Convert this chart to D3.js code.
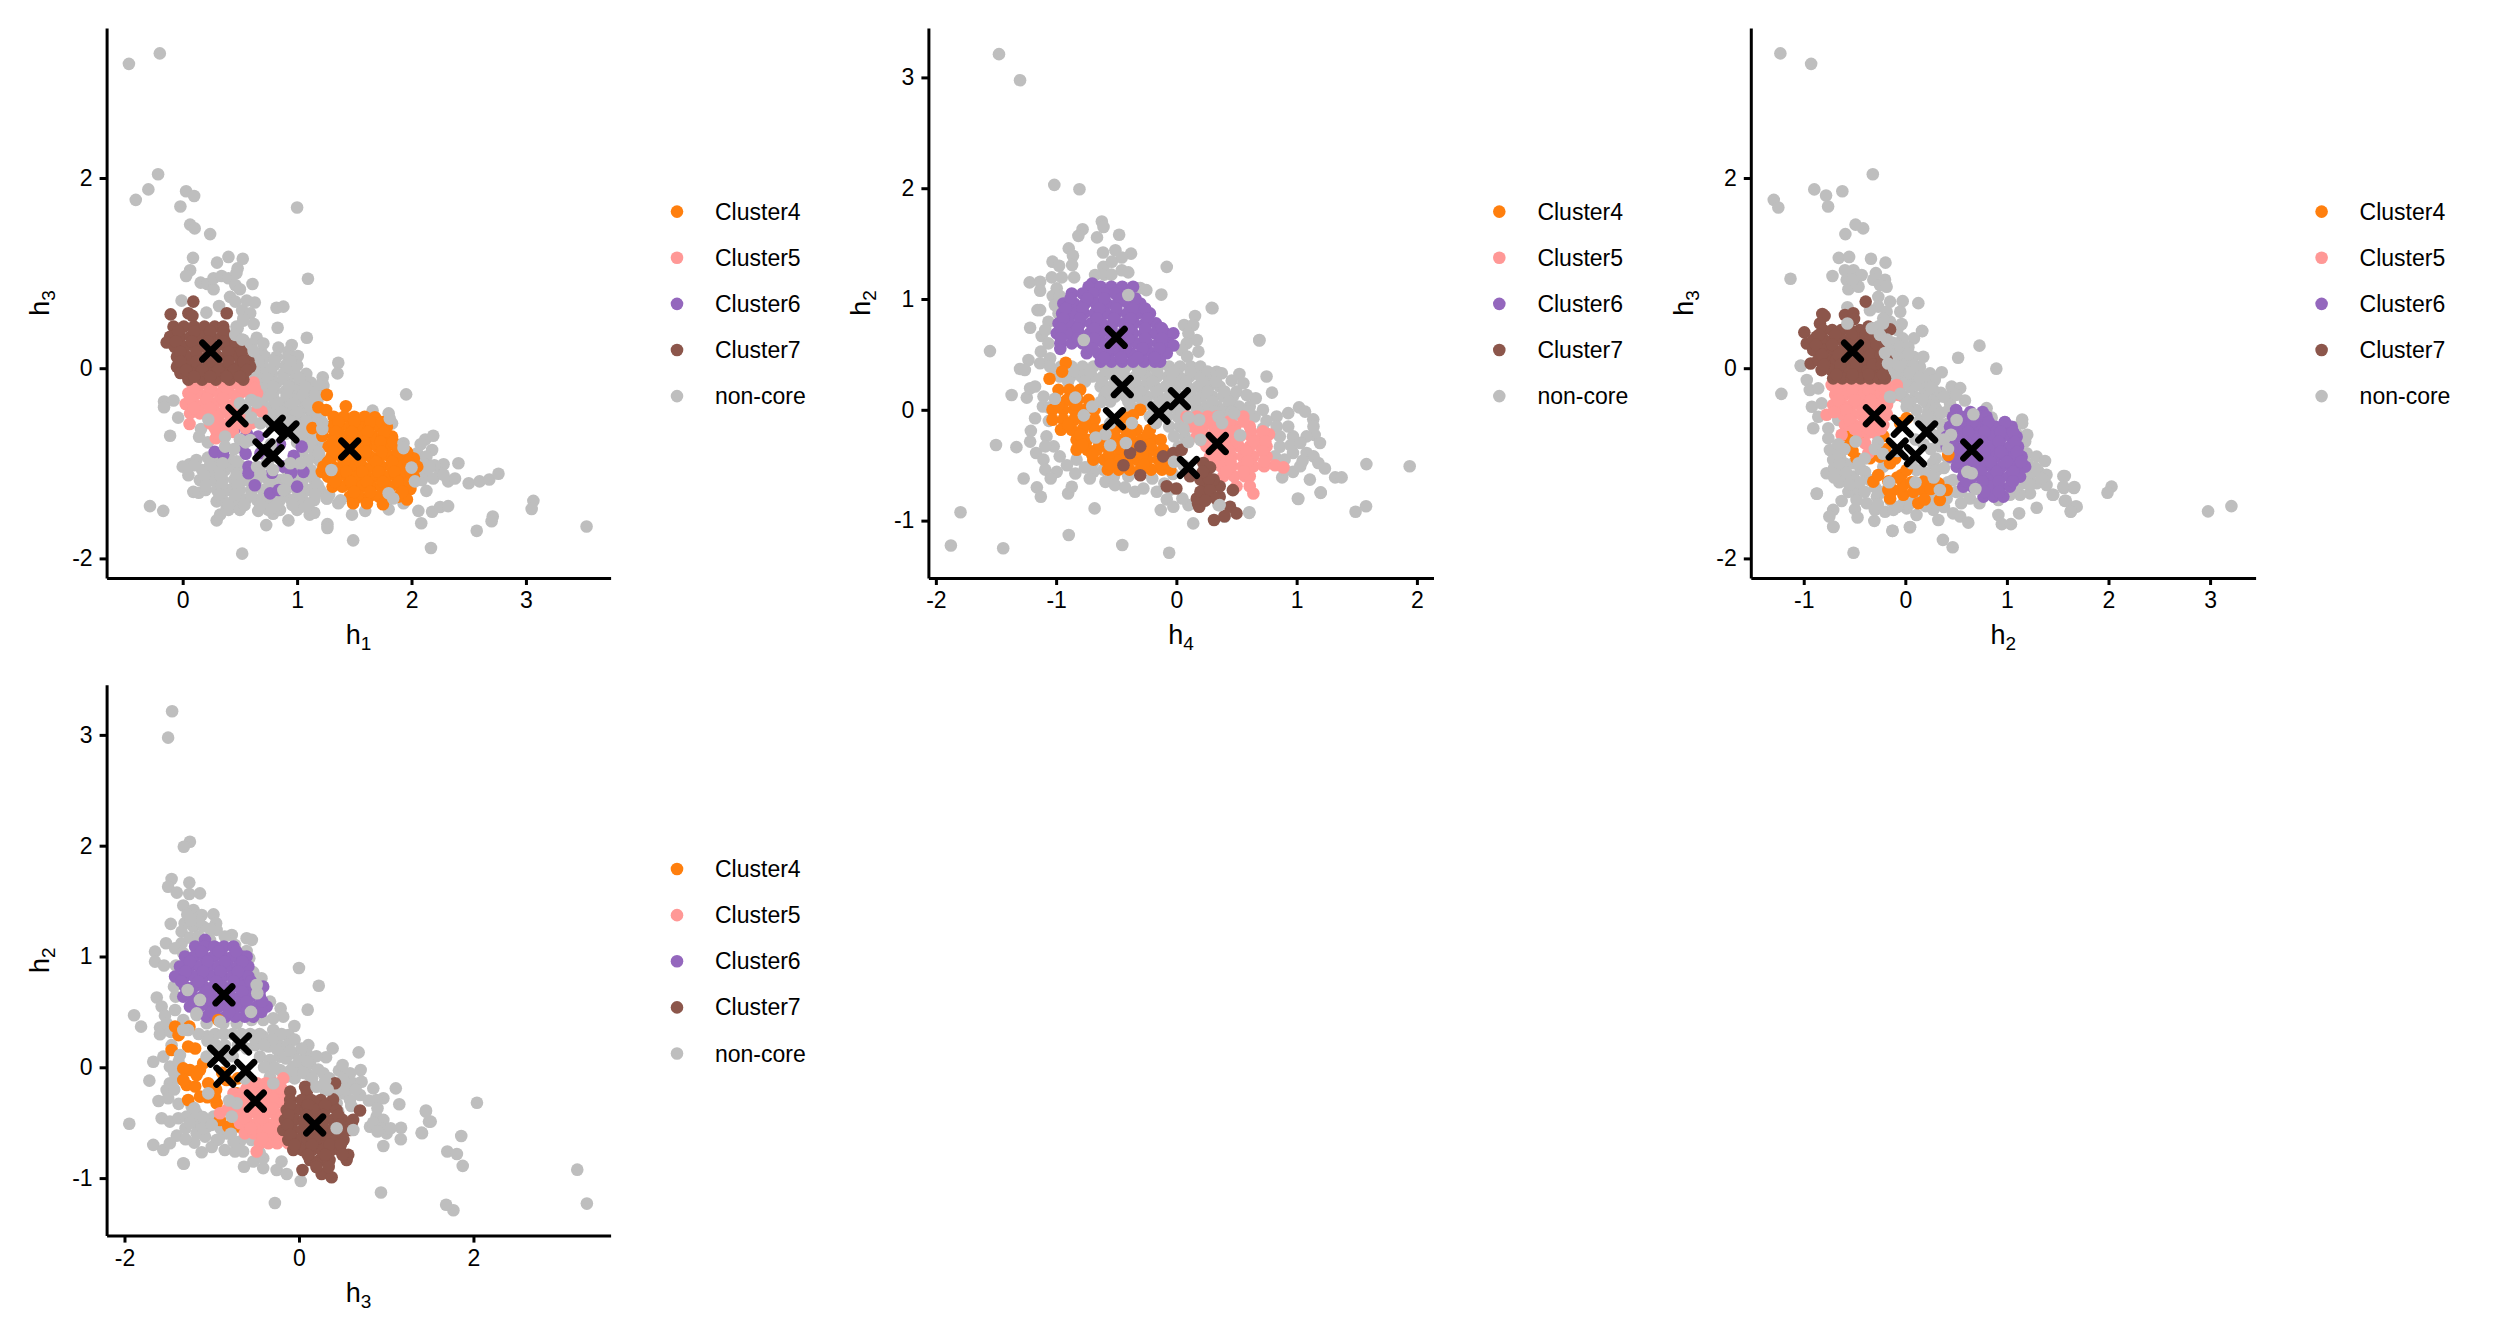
<!DOCTYPE html>
<html>
<head>
<meta charset="utf-8">
<script src="https://cdn.jsdelivr.net/npm/d3@7"></script>
<style>
  body { margin: 0; background: #fff; }
  text { font-family: "Liberation Sans", Arial, sans-serif; fill: #000; }
</style>
</head>
<body>
<svg id="chart" width="2496" height="1344"></svg>
<script>
var legendLabels = ['Cluster4', 'Cluster5', 'Cluster6', 'Cluster7', 'non-core'];
var legendColors = ['#FF7F0E', '#FF9896', '#9467BD', '#8C564B', '#BEBEBE'];

var h1Ticks = [0, 1, 2, 3];
var h2Ticks = [-1, 0, 1, 2, 3];
var h3Ticks = [-2, 0, 2];
var h4Ticks = [-2, -1, 0, 1, 2];

// cluster centres, one entry per centre
var centreH1 = [.245, .475, .80, .92, .71, .79, 1.46];
var centreH2 = [-.52, -.305, -.03, .21, .654, .10, -.08];
var centreH3 = [.18, -.50, -.61, -.67, -.86, -.92, -.85];
var centreH4 = [.10, .34, -.145, -.45, -.50, .025, -.515];

// panel 1: h1 / h3
var p1Grey = [[-.47,3.2],[-.2,3.31],[-.215,2.04],[-.3,1.88],[-.41,1.77],[.03,1.86],[.1,1.81],[-.02,1.7],[1,1.69],[.065,1.51],[.105,1.47],[.24,1.41],[.09,1.16],[.3,1.11],[.4,1.17],[.525,1.15],[.48,1.05],[.065,1.03],[.03,.97],[.157,.9],[.216,.885],[.27,.83],[.27,.945],[.34,.97],[.4,.945],[.47,1],[.46,.875],[.5,.83],[.61,.885],[.414,.75],[.46,.7],[.56,.71],[.63,.69],[.52,.61],[.59,.577],[.53,.524],[.62,.465],[.47,.437],[.46,.366],[.53,.296],[.647,.32],[-.01,.71],[.318,.654],[.207,.584],[.82,.636],[.88,.647],[.83,.426],[1.085,.32],[.837,.216],[.953,.244],[.924,.174],[1.006,.128],[.69,.163],[.705,.26],[1.36,.058],[1.353,-.054],[1.095,.94],[1.953,-.275],[1.224,-.096],[1.23,-.187],
[.62,.12],[.72,.12],[.82,.12],[.92,.12],[.6,.03],[.7,.03],[.8,.03],[.9,.03],[1,.03],[.58,-.06],[.68,-.06],[.78,-.06],[.88,-.06],[.98,-.06],[1.08,-.06],[.62,-.15],[.72,-.15],[.82,-.15],[.92,-.15],[1.02,-.15],[1.12,-.15],[1.22,-.15],[.6,-.24],[.7,-.24],[.8,-.24],[.9,-.24],[1,-.24],[1.1,-.24],[1.2,-.24],[.6,-.33],[.7,-.33],[.8,-.33],[.9,-.33],[1,-.33],[1.1,-.33],[1.18,-.33],[.66,-.42],[.76,-.42],[.86,-.42],[.96,-.42],[1.06,-.42],[1.16,-.42],[.72,-.51],[.82,-.51],[.92,-.51],[1.02,-.51],[1.12,-.51],[1.2,-.51],[.78,-.6],[.88,-.6],[.98,-.6],[1.08,-.6],[1.18,-.6],[.9,-.69],[1,-.69],[1.1,-.69],[1.18,-.69],[1,-.78],[1.1,-.78],[1.2,-.78],[1.05,-.87],[1.15,-.87],[1.2,-.95],
[.66,.075],[.8,.075],[.94,.075],[.63,-.015],[.77,-.015],[.91,-.015],[.6,-.105],[.74,-.105],[.88,-.105],[1.02,-.105],[.65,-.195],[.79,-.195],[.93,-.195],[1.07,-.195],[1.2,-.195],[.63,-.285],[.77,-.285],[.91,-.285],[1.05,-.285],[1.16,-.285],[.68,-.375],[.82,-.375],[.96,-.375],[1.1,-.375],[.72,-.465],[.86,-.465],[1,-.465],[1.14,-.465],[.8,-.555],[.94,-.555],[1.08,-.555],[1.18,-.555],[.92,-.645],[1.06,-.645],[1.16,-.645],[1.04,-.735],[1.16,-.735],
[2.12,-.75],[2.19,-.71],[2.08,-.8],[2.18,-.86],[2.05,-.895],[2.13,-.93],[2.28,-1.01],[2.41,-1],[2.02,-1.07],[2.13,-1.09],[2.25,-1.105],[2.09,-1.175],[2.19,-1.16],[2.32,-1.19],[2.38,-1.16],[2.5,-1.21],[2.595,-1.19],[2.68,-1.17],[2.76,-1.11],[2.13,-1.29],[2.06,-1.5],[2.18,-1.51],[2.25,-1.46],[2.32,-1.45],[2.085,-1.63],[2.71,-1.56],[2.7,-1.61],[2.57,-1.71],[2.17,-1.89],[1.49,-1.81],[1.265,-1.64],[1.265,-1.68],[3.065,-1.395],[3.05,-1.48],[3.53,-1.665],[1.66,-.446],[1.8,-.475],[1.83,-.58],[1.8,-1.484],[1.93,-1.42],[1.595,-1.5],[1.48,-1.54],[1.36,-1.42],[1.26,-1.37],[2.2,-1.02],[2.1,-1],[2.16,-1.04],[2.28,-1.12],[2.06,-1.12],
[-.163,-.35],[-.08,-.34],[-.163,-.41],[-.04,-.52],[-.11,-.71],[.143,-.72],[-.286,-1.45],[-.17,-1.5],[.52,-1.95],[.73,-1.65],[.297,-1.6],[.327,-1.54],[.385,-1.47],[.46,-1.456],[.66,-1.5],[.093,-1.3],[.14,-1.31],[.297,-1.4],[.924,-1.6],[1.11,-1.54],[1.15,-1.52],[.79,-1.53],[1.04,-1.456],[.16,-.64],[.22,-.78],
[.12,-.965],[.22,-.94],[.32,-.965],[.42,-.965],[1,-.965],[1.1,-.965],[1.2,-.98],[0,-1.035],[.06,-1.01],[.17,-1.07],[.27,-1.07],[.37,-1.07],[.47,-1.07],[.6,-1.07],[.91,-1.07],[1.02,-1.07],[1.12,-1.07],[.15,-1.175],[.25,-1.175],[.35,-1.175],[.45,-1.175],[.55,-1.175],[.65,-1.175],[.75,-1.175],[.85,-1.175],[.95,-1.175],[1.05,-1.175],[1.15,-1.175],[.2,-1.28],[.3,-1.28],[.4,-1.28],[.5,-1.28],[.6,-1.28],[.7,-1.28],[.8,-1.28],[.9,-1.28],[1,-1.28],[1.1,-1.28],[1.2,-1.28],[.35,-1.386],[.45,-1.386],[.55,-1.386],[.65,-1.386],[.75,-1.386],[.85,-1.386],[.95,-1.386],[1.05,-1.386],[1.15,-1.386],[.4,-1.49],[.5,-1.49],[.75,-1.49],[.85,-1.49],[1,-1.49],
[.1,-1.02],[.24,-1.02],[.38,-1.02],[.5,-1.02],[.05,-1.125],[.19,-1.125],[.33,-1.125],[.47,-1.125],[.61,-1.125],[.97,-1.125],[1.11,-1.125],[.2,-1.23],[.34,-1.23],[.48,-1.23],[.62,-1.23],[.76,-1.23],[.9,-1.23],[1.04,-1.23],[1.18,-1.23],[.32,-1.33],[.46,-1.33],[.6,-1.33],[.74,-1.33],[.88,-1.33],[1.02,-1.33],[1.16,-1.33],[1.28,-1.33],[.4,-1.44],[.54,-1.44],[.68,-1.44],[.82,-1.44],[.96,-1.44],[1.1,-1.44]];
var p1Orange = [[1.26,-.28],[1.186,-.41],[1.254,-.44],[1.426,-.4],[1.68,-.516],[1.134,-.63],[1.22,-.71],[1.216,-1.09],
[1.32,-.51],[1.41,-.51],[1.5,-.51],[1.59,-.51],[1.29,-.615],[1.375,-.615],[1.46,-.615],[1.545,-.615],[1.63,-.615],[1.715,-.615],[1.785,-.615],[1.32,-.72],[1.405,-.72],[1.49,-.72],[1.575,-.72],[1.66,-.72],[1.745,-.72],[1.83,-.72],[1.275,-.825],[1.36,-.825],[1.445,-.825],[1.53,-.825],[1.615,-.825],[1.7,-.825],[1.785,-.825],[1.87,-.825],[1.3,-.93],[1.385,-.93],[1.47,-.93],[1.555,-.93],[1.64,-.93],[1.725,-.93],[1.81,-.93],[1.895,-.93],[1.98,-.93],[2.02,-.95],[1.23,-1.035],[1.315,-1.035],[1.4,-1.035],[1.485,-1.035],[1.57,-1.035],[1.655,-1.035],[1.74,-1.035],[1.825,-1.035],[1.91,-1.035],[1.995,-1.035],[2.05,-1.035],[1.27,-1.14],[1.355,-1.14],[1.44,-1.14],[1.525,-1.14],[1.61,-1.14],[1.695,-1.14],[1.78,-1.14],[1.865,-1.14],[1.95,-1.14],[2.02,-1.14],[1.31,-1.245],[1.395,-1.245],[1.48,-1.245],[1.565,-1.245],[1.65,-1.245],[1.735,-1.245],[1.82,-1.245],[1.905,-1.245],[1.99,-1.27],[1.46,-1.35],[1.545,-1.35],[1.63,-1.35],[1.715,-1.35],[1.8,-1.35],[1.885,-1.35],[1.96,-1.38],[1.49,-1.42],[1.61,-1.42],[1.75,-1.43],
[1.36,-.565],[1.5,-.565],[1.64,-.565],[1.74,-.565],[1.34,-.67],[1.48,-.67],[1.62,-.67],[1.76,-.67],[1.31,-.775],[1.45,-.775],[1.59,-.775],[1.73,-.775],[1.84,-.775],[1.32,-.88],[1.46,-.88],[1.6,-.88],[1.74,-.88],[1.88,-.88],[1.96,-.88],[1.27,-.985],[1.41,-.985],[1.55,-.985],[1.69,-.985],[1.83,-.985],[1.97,-.985],[1.29,-1.09],[1.43,-1.09],[1.57,-1.09],[1.71,-1.09],[1.85,-1.09],[1.99,-1.09],[1.33,-1.195],[1.47,-1.195],[1.61,-1.195],[1.75,-1.195],[1.89,-1.195],[1.98,-1.195],[1.5,-1.3],[1.64,-1.3],[1.78,-1.3],[1.92,-1.3]];
var p1Pink = [[.026,-.376],[.06,-.587],[.69,-.457],[.29,-.737],[.08,-.16],[.17,-.16],[.26,-.16],[.35,-.16],[.44,-.16],[.53,-.16],[.62,-.15],[.05,-.264],[.14,-.264],[.23,-.264],[.32,-.264],[.41,-.264],[.5,-.264],[.59,-.264],[.65,-.264],[.1,-.37],[.19,-.37],[.28,-.37],[.37,-.37],[.46,-.37],[.065,-.475],[.15,-.475],[.24,-.475],[.33,-.475],[.42,-.475],[.51,-.475],[.6,-.475],[.24,-.58],[.33,-.58],[.42,-.58],[.51,-.58],[.6,-.58],[.3,-.685],[.38,-.685],[.44,-.67],
[.1,-.21],[.24,-.21],[.38,-.21],[.52,-.21],[.63,-.21],[.07,-.32],[.21,-.32],[.35,-.32],[.47,-.32],[.1,-.42],[.24,-.42],[.38,-.42],[.5,-.42],[.28,-.53],[.42,-.53],[.56,-.53],[.28,-.63],[.42,-.63],[.55,-.63]];
var p1Purple = [[.28,-.88],[.355,-.91],[.46,-.63],[.56,-.685],[.66,-.72],[1.04,-.825],[.97,-.92],[.88,-1.035],[.575,-1.035],[.63,-1.23],[.764,-1.316],[.84,-1.28],[1,-1.245],[1.055,-1.09],[.68,-.895],[.5,-.825],[.575,-1.105],[.85,-.8],[.55,-.9],[.78,-1.1],[.95,-1.1]];
var p1Brown = [[.093,.7],[-.105,.566],[.05,.577],[.385,.577],[.085,.55],[-.08,.437],[.01,.437],[.1,.437],[.19,.437],[.28,.437],[.355,.437],[-.11,.33],[-.02,.33],[.07,.33],[.16,.33],[.25,.33],[.34,.33],[.44,.33],[-.14,.27],[-.07,.226],[.02,.226],[.11,.226],[.2,.226],[.29,.226],[.38,.226],[.47,.226],[.5,.2],[-.05,.12],[.04,.12],[.13,.12],[.22,.12],[.31,.12],[.4,.12],[.49,.12],[.575,.08],[-.05,.016],[.04,.016],[.13,.016],[.22,.016],[.31,.016],[.4,.016],[.49,.016],[.59,.016],[-.02,-.05],[.08,-.06],[.17,-.06],[.26,-.06],[.35,-.06],[.44,-.06],[.53,-.06],[.05,-.12],[.17,-.12],[.29,-.12],[.41,-.12],[.53,-.12],
[-.04,.385],[.1,.385],[.24,.385],[.36,.385],[-.06,.28],[.08,.28],[.22,.28],[.36,.28],[.46,.28],[-.02,.17],[.12,.17],[.26,.17],[.4,.17],[.52,.17],[-.02,.07],[.12,.07],[.26,.07],[.4,.07],[.53,.07],[.03,-.02],[.17,-.02],[.31,-.02],[.45,-.02],[.56,-.02],[.1,-.09],[.24,-.09],[.38,-.09],[.5,-.09]];
var p1GreyTop = [[.37,-.72],[.37,-.825],[.47,-.98],[.65,-1.035],[.68,-1.105],[.735,-1],[.79,-1.07],[.91,-1.175],[.88,-1.28],[.94,-1],[1.03,-1],[.59,-.755],[.5,-.75],[.77,-.8],[.75,-.97],[.45,-.85],[.35,-1],[.55,-.78],[1.22,-.57],[1.22,-.64],[1.19,-.895],[2,-1.045],[2.03,-1.19],[1.93,-.79],[1.93,-.84],[1.8,-1.315],[1.84,-1.37],[1.81,-.53],[1.3,-1.07],[1.26,-1.37],[1.38,-1.39],[.224,-.54],[.5,-.37],[.6,-.335],[.53,.5],[.48,.42],[.46,.35],[.52,.3],[.6,.25],[.62,.18],[.65,-.36],[.55,-.42],[.68,-.58],[.6,-.52]];

// panel 2: h4 / h2
var p2Grey = [[-1.475,3.21],[-1.3,2.975],[-1.015,2.03],[-.806,1.99],[-1.795,-.924],[-1.875,-1.225],[-1.44,-1.25],[-.895,-1.13],[-.45,-1.22],[-.06,-1.29],[-.68,-.89],[1.94,-.51],[1.58,-.49],[1.577,-.87],[1.49,-.92],[1.01,-.8],[1.2,-.75],[.14,-1.025],[.606,-.93],[-1.55,.53],[-1.5,-.317],[-1.33,-.337],[-1.37,.133],[.69,.626],[.3,.916],[-.08,1.29],[-.125,1.04],
[-.62,1.7],[-.606,1.65],[-.78,1.63],[-.815,1.57],[-.66,1.556],[-.476,1.58],[-.895,1.457],[-.86,1.39],[-.867,1.306],[-.61,1.42],[-.507,1.44],[-.377,1.41],[-.454,1.375],[-1.03,1.337],[-.975,1.3],[-.607,1.29],[-.537,1.337],[-.454,1.26],[-.4,1.24],[-.676,1.217],[-.6,1.22],[-.54,1.22],[-.3,1.1],[-.25,1.08],[-1.22,1.15],[-1.133,1.156],[-1.133,1.075],[-1.036,1.195],[-.953,1.195],[-.85,1.195],[-.995,1.096],[-1.028,1.027],[-.97,1.027],[-1.01,.946],[-1.155,.9],[-1.133,.9],[-.98,.87],[-1.064,.795],[-1.216,.74],[-1.12,.666],[-1.09,.72],[-1.127,.525],[-1.064,.6],[-1.23,.45],[-1.3,.368],[-1.26,.36],[-1.133,.42],[-1.05,.465],[-1.244,.11],[-1.216,.194],[-1.175,.21],[-1.105,.12],[-1.11,.03],[-1.175,-.076],[-1.21,-.19],[-1.216,-.287],[-1.166,-.39],[-1.105,-.45],[-1.09,-.54],[-.995,-.56],[-1.045,-.62],[-1.27,-.62],[-1.16,-.7],[-1.127,-.785],[-.9,-.755],[-.87,-.695],[-.84,-.575],[-1.08,-.24],[-1.02,-.33],[-.97,-.42],[-.83,-.45],[-.695,-.48],[-.69,-.56],[-.607,-.54],[-.52,-.6],[-1.06,-.1],[-1.06,.02],[-1.09,-.33],[-.91,-.5],[-.76,-.52],[-.72,-.62],
[-1.05,.39],[-.96,.39],[-.87,.39],[-.78,.39],[-.69,.39],[-.6,.39],[-.51,.39],[-.42,.39],[-.33,.39],[-.24,.39],[-.15,.39],[-.06,.39],[.03,.39],[.12,.39],[.2,.39],[-.97,.3],[-.88,.3],[-.79,.3],[-.7,.3],[-.61,.3],[-.52,.3],[-.43,.3],[-.34,.3],[-.25,.3],[-.16,.3],[-.07,.3],[.02,.3],[.11,.3],[.2,.3],[.29,.3],[-.63,.21],[-.54,.21],[-.45,.21],[-.36,.21],[-.27,.21],[-.18,.21],[-.09,.21],[0,.21],[.09,.21],[.18,.21],[.27,.21],[.36,.21],[-.6,.12],[-.51,.12],[-.42,.12],[-.33,.12],[-.24,.12],[-.15,.12],[-.06,.12],[.03,.12],[.12,.12],[.21,.12],[.3,.12],[.39,.12],[.47,.12],[-.38,.03],[-.29,.03],[-.2,.03],[-.11,.03],[-.02,.03],[.07,.03],[.16,.03],[.25,.03],[.34,.03],[.43,.03],[.52,.03],[.61,.03],[-.08,-.06],[.01,-.06],[.1,-.06],[.25,-.05],[.38,-.05],[.47,-.06],[.56,-.06],[.65,-.06],[-.06,-.15],[.03,-.15],[.12,-.15],[-.02,-.24],[.07,-.24],[.02,-.33],
[-1,.345],[-.86,.345],[-.72,.345],[-.58,.345],[-.44,.345],[-.3,.345],[-.16,.345],[-.02,.345],[.12,.345],[.26,.345],[-.9,.255],[-.76,.255],[-.62,.255],[-.48,.255],[-.34,.255],[-.2,.255],[-.06,.255],[.08,.255],[.22,.255],[.33,.255],[-.58,.165],[-.44,.165],[-.3,.165],[-.16,.165],[-.02,.165],[.12,.165],[.26,.165],[.4,.165],[-.55,.075],[-.4,.075],[-.26,.075],[-.12,.075],[.02,.075],[.16,.075],[.3,.075],[.44,.075],[-.1,-.015],[.04,-.015],[.18,-.015],[.32,-.015],[.46,-.015],[.6,-.015],
[.064,.765],[.155,.846],[.14,.765],[.1,.69],[.17,.63],[.086,.6],[.044,.54],[.183,.525],[.09,.48],[.294,.92],[.69,.63],[.335,.344],[.377,.33],[.46,.263],[.524,.323],[.557,.24],[.75,.3],[.795,.155],[.66,.104],[.5,.164],[.585,.134],[1.02,.022],[1.07,-.016],[1.138,-.086],[.93,-.03],[.834,-.06],[.72,0],[.97,-.24],[1.14,-.15],[1.15,-.227],[1.194,-.3],[1.083,-.24],[.834,-.15],[.93,-.15],[.86,-.24],[.86,-.333],[.82,-.42],[.97,-.39],[1.083,-.39],[1.14,-.42],[1.18,-.48],[1.235,-.53],[.97,-.56],[1.03,-.51],[1.11,-.63],[.88,-.61],[1.32,-.61],[1.374,-.61],[1.2,-.745],[1.014,-.805],[.9,-.54],[.75,-.1],[.95,-.32],[1.03,-.3],[.72,-.17],[.9,-.45],[1.05,-.46],
[-.59,-.65],[-.51,-.68],[-.427,-.7],[-.344,-.74],[-.274,-.71],[-.163,-.74],[-.1,-.665],[-.05,-.72],[-.08,-.81],[-.13,-.905],[-.025,-.875],[.1,-.86],[.35,-.86],[.4,-.965],[.607,-.925],[-.4,-.6],[-.2,-.62],[.05,-.8],[-.03,-.58]];
var p2Orange = [[-.92,.425],[-.95,.345],[-1.055,.28],[-.98,.18],[-.89,.18],[-.8,.18],[-1,.09],[-.91,.09],[-.82,.09],[-.73,.09],[-1.03,0],[-.94,0],[-.85,0],[-.76,0],[-.68,0],[-.3,0],[-1.03,-.09],[-.94,-.09],[-.85,-.09],[-.76,-.09],[-.68,-.09],[-.36,-.05],[-.42,-.07],[-.96,-.18],[-.87,-.18],[-.78,-.18],[-.68,-.18],[-.6,-.18],[-.51,-.18],[-.42,-.18],[-.33,-.18],[-.22,-.18],[-.83,-.27],[-.74,-.27],[-.65,-.27],[-.56,-.27],[-.47,-.27],[-.38,-.27],[-.29,-.27],[-.2,-.27],[-.13,-.27],[-.83,-.36],[-.74,-.36],[-.66,-.36],[-.56,-.36],[-.47,-.36],[-.38,-.36],[-.29,-.36],[-.2,-.36],[-.11,-.36],[-.69,-.45],[-.6,-.45],[-.51,-.45],[-.42,-.45],[-.33,-.45],[-.24,-.45],[-.15,-.45],[-.08,-.45],[-.57,-.54],[-.48,-.54],[-.39,-.54],[-.3,-.54],[-.21,-.54],[-.12,-.54],[-.05,-.54],
[-.9,-.135],[-.76,-.135],[-.98,.045],[-.84,.045],[-.72,.045],[-.8,-.225],[-.66,-.225],[-.52,-.225],[-.38,-.225],[-.24,-.225],[-.78,-.315],[-.64,-.315],[-.5,-.315],[-.36,-.315],[-.22,-.315],[-.7,-.405],[-.56,-.405],[-.42,-.405],[-.28,-.405],[-.14,-.405],[-.55,-.495],[-.41,-.495],[-.27,-.495],[-.13,-.495]];
var p2Pink = [[.085,-.06],[.17,-.06],[.26,-.06],[.335,-.06],[.557,-.06],[.14,-.15],[.22,-.15],[.31,-.15],[.4,-.15],[.49,-.15],[.61,-.15],[.17,-.24],[.26,-.24],[.35,-.24],[.44,-.24],[.53,-.24],[.62,-.24],[.72,-.24],[.77,-.22],[.25,-.33],[.34,-.33],[.43,-.33],[.52,-.33],[.61,-.33],[.7,-.33],[.75,-.33],[.28,-.42],[.37,-.42],[.46,-.42],[.55,-.42],[.64,-.42],[.75,-.42],[.28,-.51],[.37,-.51],[.46,-.51],[.55,-.51],[.64,-.51],[.73,-.51],[.82,-.5],[.89,-.52],[.39,-.6],[.48,-.6],[.57,-.6],[.61,-.6],[.5,-.69],[.61,-.69],[.64,-.755],
[.16,-.105],[.3,-.105],[.44,-.105],[.56,-.105],[.2,-.195],[.34,-.195],[.48,-.195],[.62,-.195],[.72,-.195],[.22,-.285],[.36,-.285],[.5,-.285],[.64,-.285],[.74,-.285],[.3,-.375],[.44,-.375],[.58,-.375],[.72,-.375],[.31,-.465],[.45,-.465],[.59,-.465],[.73,-.465],[.42,-.555],[.56,-.555]];
var p2Purple = [[-.7,1.14],[-.73,1.11],[-.63,1.11],[-.54,1.11],[-.45,1.11],[-.36,1.11],[-.87,1.05],[-.78,1.05],[-.69,1.05],[-.6,1.05],[-.51,1.05],[-.41,1.05],[-.94,.96],[-.85,.96],[-.76,.96],[-.67,.96],[-.58,.96],[-.49,.96],[-.4,.96],[-.3,.96],[-.95,.87],[-.86,.87],[-.77,.87],[-.68,.87],[-.59,.87],[-.5,.87],[-.41,.87],[-.32,.87],[-.22,.87],[-.98,.78],[-.89,.78],[-.8,.78],[-.71,.78],[-.62,.78],[-.53,.78],[-.44,.78],[-.35,.78],[-.26,.78],[-.17,.78],[-.135,.74],[-.995,.69],[-.9,.69],[-.81,.69],[-.72,.69],[-.63,.69],[-.54,.69],[-.45,.69],[-.36,.69],[-.27,.69],[-.18,.69],[-.09,.69],[-.025,.69],[-.965,.6],[-.87,.6],[-.78,.6],[-.69,.6],[-.6,.6],[-.51,.6],[-.42,.6],[-.33,.6],[-.24,.6],[-.15,.6],[-.06,.6],[-.025,.58],[-.965,.55],[-.745,.51],[-.65,.51],[-.56,.51],[-.47,.51],[-.38,.51],[-.29,.51],[-.2,.51],[-.11,.51],[-.08,.51],[-.63,.435],[-.54,.435],[-.45,.435],[-.36,.435],[-.27,.435],[-.18,.435],[-.135,.435],
[-.88,1.005],[-.74,1.005],[-.6,1.005],[-.46,1.005],[-.34,1.005],[-.92,.915],[-.78,.915],[-.64,.915],[-.5,.915],[-.36,.915],[-.26,.915],[-.94,.825],[-.8,.825],[-.66,.825],[-.52,.825],[-.38,.825],[-.24,.825],[-.96,.735],[-.82,.735],[-.68,.735],[-.54,.735],[-.4,.735],[-.26,.735],[-.12,.735],[-.96,.645],[-.82,.645],[-.68,.645],[-.54,.645],[-.4,.645],[-.26,.645],[-.12,.645],[-.7,.555],[-.56,.555],[-.42,.555],[-.28,.555],[-.14,.555],[-.6,.47],[-.46,.47],[-.32,.47],[-.18,.47]];
var p2Brown = [[-.385,-.39],[-.3,-.33],[-.44,-.5],[-.3,-.59],[-.11,-.42],[-.025,-.39],[.044,-.36],[-.08,-.69],[0,-.71],[.114,-.6],[.224,-.48],[.28,-.52],[.18,-.845],[.19,-.875],[.17,-.8],[.25,-.77],[.36,-.69],[.31,-.63],[.24,-.69],[.2,-.63],[.36,-.785],[.47,-.725],[.446,-.875],[.5,-.935],[.313,-.995],[.4,-.96],[.2,-.74],[.28,-.725],[.27,-.62],[.22,-.56],[.33,-.8],[.24,-.82]];
var p2GreyTop = [[-.4,1.036],[-.77,.63],[-1.01,.1],[-.84,.11],[-.77,-.05],[-.63,.07],[-.7,.03],[-.55,-.12],[-.59,-.22],[-.67,-.25],[-.42,-.3],[-.55,-.32],[.36,-.86],[.53,-.23],[.2,-.27],[.06,-.17],[.19,-.09],[.35,-.06],[.48,-.03],[.38,-.12],[.1,-.07],[-.17,-.12],[-.22,-.06],[-.13,-.03],[-.05,.02],[-.37,-.12],[.06,-.5],[-.02,-.47],[.1,-.29]];

// panel 3: h2 / h3
var p3Grey = [[-1.23,3.31],[-.927,3.2],[-.32,2.04],[-.896,1.88],[-.62,1.86],[-.78,1.815],[-.76,1.7],[-1.295,1.77],[-1.25,1.69],[-.49,1.51],[-.415,1.47],[-.59,1.41],[-.655,1.16],[-.553,1.17],[-.338,1.15],[-.195,1.11],[-1.13,.94],[-.717,.97],[3.21,-1.45],[2.98,-1.505],[2.03,-1.245],[1.99,-1.31],[1.675,-1.455],[1.63,-1.505],[1.57,-1.395],[1.66,-1.26],[1.56,-1.26],[1.556,-1.135],[1.45,-1.33],[-.51,-1.94],[.37,-1.805],[.466,-1.883],[-.128,-1.71],[.046,-1.67],[-.707,-1.67],[-.87,-1.318],[-1.22,-.27],[-1.03,.027],[.896,-.005],[.73,.237],[.52,.11],[.164,.392],[.128,.684],
[-.594,1.03],[-.51,1.03],[-.577,.93],[-.48,.945],[-.43,.98],[-.56,.83],[-.46,.857],[-.29,1],[-.315,.93],[-.2,.93],[-.25,.875],[-.184,.857],[-.52,.93],[-.266,.75],[-.266,.647],[-.348,.61],[-.15,.7],[-.026,.705],[-.05,.594],[-.184,.594],[-.15,.49],[-.036,.465],[-.315,.384],[-.217,.524],[-.266,.437],[-.57,.64],[.167,.39],[.085,.314],[-.026,.314],[-.085,.26],[-.167,.174],[-.05,.12],[.08,.12],[.177,.12],[.013,.016],[.144,.016],[-.15,-.02],[-.02,-.09],[.095,-.09],[.243,-.054],[.358,-.043],[.29,-.124],[.16,-.16],[.276,-.23],[.194,-.264],[.456,-.194],[.54,-.21],[.407,-.3],[-.15,-.317],[-.02,-.3],[.095,-.3],[.29,-.334],[.21,-.37],[.587,-.34],[.44,-.37],[.013,-.405],[.11,-.44],[.226,-.457],[.325,-.475],[.34,-.58],[-.1,-.05],[-.1,.05],[-.1,.16],[-.13,.27],[-.05,.23],[.03,.22],[-.05,-.2],[.05,-.2],[.15,-.07],[-.1,-.12],[.2,-.16],[.35,-.26],[.06,-.01],[.27,-.55],[.27,-.7],[.16,-.55],[.34,-.7],[.34,-.82],[.3,-.95],
[0,-.15],[.13,-.18],[.25,-.2],[.38,-.3],[.5,-.28],[.05,-.35],[.17,-.33],[.3,-.42],[.42,-.45],[.2,-.6],[.35,-.47],[.42,-.58],[.42,-.95],[.38,-.62],[.25,-.85],[.27,-1],[.2,-1.1],[.02,.06],[.08,.02],[-.05,.02],[.03,.15],[.04,-.05],[.14,-.1],[-.2,.3],[-.22,.42],[-.08,.4],[-.2,.22],
[-1.027,.023],[-.97,-.124],[-.94,-.23],[-.857,-.212],[-.92,-.405],[-.824,-.37],[-.857,-.51],[-.906,-.632],[-.758,-.632],[-.66,-.545],[-.758,-.737],[-.742,-.86],[-.71,-.965],[-.775,-1.105],[-.873,-1.32],[-.643,-.93],[-.627,-1.07],[-.61,-1.175],[-.512,-1],[-.512,-1.14],[-.48,-1.28],[-.397,-1.09],[-.348,-1.175],[-.627,-1.396],[-.48,-1.386],[-.496,-1.484],[-.47,-1.57],[-.71,-1.49],[-.748,-1.56],[-.71,-1.665],[-.305,-1.605],[-.3,-1.49],[-.2,-1.51],[-.118,-1.49],[.013,-1.474],[.11,-1.544],[-.125,-1.71],[.046,-1.673],[-.15,-1.386],[-.28,-1.35],[-.02,-1.42],[.11,-1.37],[.276,-1.37],[.276,-1.49],[.325,-1.596],[.47,-1.526],[.54,-1.56],[.62,-1.624],[.637,-1.37],[.73,-1.42],[.47,-1.175],[.31,-1.07],[.11,-1.07],[.08,-1.21],[.407,-1.37],[-.217,-1.035],[-.65,-1.2],[-.56,-1.3],[-.4,-1.3],[-.38,-1.42],[-.27,-1.43],[-.6,-1],[-.7,-1.05],[.2,-1.45],[.38,-1.46],[.24,-1.25],[.5,-1.3],[.55,-1.42],[-.7,-1.15],[-.58,-1.1],[-.45,-1.2],[-.55,-1.22],[-.66,-.9],[-.62,-.8],[-.44,-1.06],[-.3,-1.25],[-.22,-1.3],[-.08,-1.46],[.05,-1.42],[.35,-1.3],[.42,-1.2],[.55,-1.3],
[.8,-.42],[.98,-.57],[1.15,-.54],[1.15,-.58],[1.18,-.77],[1.1,-.7],[1.195,-.895],[1.293,-.93],[1.375,-.976],[1.31,-1.087],[1.39,-1.12],[1.227,-1.12],[1.16,-1.21],[1.293,-1.21],[1.39,-1.228],[1.227,-1.316],[1.13,-1.33],[1.03,-1.33],[1.457,-1.33],[1.57,-1.133],[1.555,-1.245],[1.664,-1.25],[1.58,-1.393],[1.687,-1.456],[1.628,-1.51],[1.293,-1.467],[1.12,-1.526],[.916,-1.544],[.95,-1.64],[1.04,-1.64],[.916,-1.386],[.85,-.52],[1.08,-.62],[1.2,-1],[1.1,-1.25],[1.28,-1.05],[1.22,-1.22],[1.34,-1.16],[1.2,-.7]];
var p3Orange = [[-.545,-.72],[-.61,-.7],[-.463,-.72],[-.56,-.825],[-.48,-.947],[-.52,-.87],[-.348,-.947],[-.25,-.72],[-.217,-.713],[-.25,-.93],[-.15,-1],[-.036,-1.123],[-.167,-1.19],[-.167,-1.28],[-.02,-1.33],[-.12,-1.28],[-.02,-1.228],[.013,-1.07],[.177,-1.193],[.177,-1.28],[.128,-1.42],[.325,-1.21],[.407,-1.28],[.34,-1.386],[.423,-.912],[-.315,-1.193],[-.266,-1.123],[-.05,-.58],[.013,-.527],[-.15,-1.37],[-.08,-1.15],[.06,-1.2],[.08,-1.3],[.25,-1.27],[.19,-1.38],[-.1,-.95],[-.18,-.85]];
var p3Pink = [[-.725,-.176],[-.64,-.176],[-.55,-.176],[-.46,-.176],[-.37,-.176],[-.28,-.176],[-.19,-.176],[-.085,-.176],[-.69,-.28],[-.6,-.28],[-.51,-.28],[-.42,-.28],[-.33,-.28],[-.24,-.28],[-.15,-.28],[-.07,-.28],[-.71,-.387],[-.62,-.387],[-.53,-.387],[-.44,-.387],[-.35,-.387],[-.26,-.387],[-.18,-.387],[-.775,-.49],[-.61,-.49],[-.52,-.49],[-.43,-.49],[-.34,-.49],[-.25,-.49],[-.18,-.49],[-.7,-.46],[-.594,-.597],[-.5,-.597],[-.41,-.597],[-.32,-.597],[-.217,-.597],[-.397,-.79],[-.364,-.895],[-.627,-.7],[-.46,-.68],[-.37,-.68],[-.3,-.68],
[-.68,-.23],[-.52,-.23],[-.36,-.23],[-.2,-.23],[-.08,-.23],[-.66,-.335],[-.5,-.335],[-.34,-.335],[-.2,-.335],[-.58,-.44],[-.42,-.44],[-.26,-.44],[-.55,-.545],[-.39,-.545],[-.24,-.545],[-.5,-.64],[-.36,-.64],[-.24,-.64]];
var p3Purple = [[.5,-.44],[.64,-.46],[.76,-.46],[.47,-.51],[.56,-.51],[.65,-.51],[.74,-.51],[.8,-.51],[.44,-.615],[.53,-.615],[.62,-.615],[.71,-.615],[.8,-.615],[.89,-.615],[.98,-.615],[1.047,-.615],[.407,-.72],[.5,-.72],[.59,-.72],[.68,-.72],[.77,-.72],[.86,-.72],[.95,-.72],[1.04,-.72],[1.096,-.72],[.407,-.825],[.49,-.825],[.58,-.825],[.67,-.825],[.76,-.825],[.85,-.825],[.94,-.825],[1.03,-.825],[1.11,-.825],[.44,-.93],[.53,-.93],[.62,-.93],[.71,-.93],[.8,-.93],[.89,-.93],[.98,-.93],[1.07,-.93],[1.145,-.93],[.505,-1.035],[.59,-1.035],[.68,-1.035],[.77,-1.035],[.86,-1.035],[.95,-1.035],[1.04,-1.035],[1.13,-1.035],[1.18,-1.035],[.57,-1.14],[.66,-1.14],[.75,-1.14],[.84,-1.14],[.93,-1.14],[1.02,-1.14],[1.13,-1.14],[.57,-1.245],[.66,-1.245],[.75,-1.245],[.84,-1.245],[.93,-1.245],[1.03,-1.245],[.77,-1.35],[.87,-1.35],[.965,-1.35],
[.5,-.565],[.66,-.565],[.82,-.565],[.98,-.565],[.46,-.67],[.62,-.67],[.78,-.67],[.94,-.67],[1.06,-.67],[.44,-.775],[.6,-.775],[.76,-.775],[.92,-.775],[1.08,-.775],[.46,-.88],[.62,-.88],[.78,-.88],[.94,-.88],[1.1,-.88],[.52,-.985],[.68,-.985],[.84,-.985],[1,-.985],[1.14,-.985],[.58,-1.09],[.74,-1.09],[.9,-1.09],[1.06,-1.09],[.6,-1.19],[.76,-1.19],[.92,-1.19],[1.06,-1.19],[.78,-1.3],[.92,-1.3]];
var p3Brown = [[-.39,.7],[-.817,.57],[-.795,.55],[-.594,.56],[-.512,.577],[-.505,.517],[-.994,.377],[-.84,.47],[-.97,.26],[-.873,.33],[-.932,.05],[-.364,.437],[-.15,.408],[-.184,.086],[-.807,.4],[-.72,.4],[-.63,.4],[-.54,.4],[-.45,.4],[-.38,.4],[-.906,.297],[-.8,.297],[-.71,.297],[-.62,.297],[-.53,.297],[-.44,.297],[-.315,.297],[-.906,.19],[-.8,.19],[-.71,.19],[-.62,.19],[-.53,.19],[-.44,.19],[-.35,.19],[-.25,.19],[-.857,.086],[-.77,.086],[-.68,.086],[-.59,.086],[-.5,.086],[-.41,.086],[-.32,.086],[-.217,.086],[-.824,-.02],[-.73,-.02],[-.64,-.02],[-.55,-.02],[-.46,-.02],[-.37,-.02],[-.28,-.02],[-.233,-.02],[-.71,-.107],[-.62,-.107],[-.53,-.107],[-.44,-.107],[-.35,-.107],[-.26,-.107],[-.2,-.107],
[-.85,.35],[-.69,.35],[-.53,.35],[-.39,.35],[-.88,.245],[-.72,.245],[-.56,.245],[-.4,.245],[-.28,.245],[-.82,.14],[-.66,.14],[-.5,.14],[-.34,.14],[-.24,.14],[-.8,.035],[-.64,.035],[-.48,.035],[-.32,.035],[-.23,.035],[-.68,-.065],[-.52,-.065],[-.36,-.065],[-.22,-.065]];
var p3GreyTop = [[-.57,.47],[-.33,.42],[-.25,.35],[-.22,.47],[-.18,.3],[-.2,.16],[-.17,.05],[-.05,-.27],[-.15,-.3],[.02,-.36],[.14,-.55],[.22,-.5],[-.49,-.77],[-.27,-.78],[-.46,-1],[-.3,-.85],[-.22,-.9],[-.08,-.87],[.1,-.75],[.18,-.8],[.06,-1],[.1,-1.2],[.28,-1.15],[.34,-1.28],[.38,-1.05],[.45,-.7],[.38,-.75],[.42,-.85],[.67,-.485],[.505,-.545],[.653,-1.105],[.69,-1.27],[.61,-1.09],[-.16,-1.2],[-.6,-.85],[-.66,-.8],[-.65,-1],[-.4,-.95]];

// panel 4: h3 / h2
var p4Grey = [[-1.454,3.213],[-1.5,2.975],[-1.25,2.035],[-1.32,1.99],[-1.945,-.51],[0,.896],[.227,.736],[.1,.52],[2.04,-.32],[3.19,-.924],[3.3,-1.23],[1.77,-1.29],[1.687,-1.24],[.94,-1.13],[-.276,-1.225],[-1.32,-.87],[1.7,-.76],[1.81,-.783],[1.877,-.89],[1.86,-.62],[1.49,-.49],[1.454,-.4],[1.41,-.595],
[-1.46,1.7],[-1.5,1.63],[-1.4,1.576],[-1.257,1.667],[-1.257,1.564],[-1.135,1.57],[-1.326,1.46],[-1.21,1.42],[-1.115,1.375],[-.98,1.38],[-.95,1.3],[-1.47,1.294],[-1.31,1.3],[-1.345,1.224],[-1.21,1.27],[-1.1,1.27],[-.944,1.24],[-.77,1.194],[-.85,1.18],[-.6,1.164],[-.54,1.15],[-1.524,1.12],[-1.345,1.12],[-1.42,1.074],[-1.65,1.044],[-1.65,.954],[-1.547,.918],[-1.41,.918],[-1.326,1.03],[-.733,1.104],[-.57,.984],[-.523,.857],[-.43,.803],[-.332,.593],[-.21,.532],[-.18,.457],[-.294,.442],[-1.25,1.17],[-1.15,1.18],[-1.02,1.15],[-.6,1.05],[-1.28,1.38],[-1.15,1.32],[-1.02,1.25],[-1.24,1.33],
[-1.433,.728],[-1.63,.63],[-1.574,.548],[-1.536,.466],[-1.414,.638],[-1.89,.47],[-1.81,.367],[-1.593,.358],[-1.593,.298],[-1.517,.397],[-1.42,.517],[-1.326,.427],[-1.173,.472],[-1.058,.397],[-.867,.397],[-.714,.397],[-.543,.427],[-.41,.427],[-.294,.337],[-.41,.277],[-.256,.247],[-.053,.373],[-.122,.292],[-.18,.187],[-.35,.187],[-.447,.096],[-.332,.066],[-.218,.096],[-.065,.126],[.107,.2],[.088,.126],[.03,.066],[-.065,.006],[-.218,-.024],[-.4,0],[-.332,-.084],[-.14,-.084],[.01,-.024],[.126,.036],[.31,.09],[.386,.171],[.684,.135],[.28,-.054],[.458,-.03],[.707,-.024],[.585,-.054],[.508,-.114],[.394,-.144],[.3,-.205],[.623,-.144],[.718,-.13],[.508,-.235],[.7,-.25],[.432,-.325],[.585,-.295],[.852,-.19],[.967,-.28],[.89,-.295],[1.11,-.19],[1.15,-.334],[.89,-.445],[.967,-.475],[.814,-.536],[1.005,-.596],[1.17,-.545],[1.167,-.65],[1.406,-.59],[1.456,-.39],[1.51,-.49],[.967,-.71],[-.96,.3],[-.86,.3],[-.76,.3],[-.66,.3],[-.56,.3],[-1.05,.28],[-1.15,.3],[-.5,.2],[-.6,.17],[-.7,.2],[-.85,.2],[-.45,.3],[-.15,.08],[-.25,.16],[-.13,.2],[-.05,.25],[.03,.17],[.2,.1],[.22,-.02],[.1,-.06],[-.05,-.1],[.5,.02],
[-.2,.3],[-.1,.15],[0,.05],[-.3,.25],[.1,.05],[-.5,.25],[-.4,.2],[-.28,0],[-.1,-.03],[.05,-.05],[.15,-.1],[.35,-.1],[.45,-.2],[.55,-.2],[.65,-.2],[.6,-.35],[.45,-.4],[.8,-.3],[.9,-.37],[.85,-.5],[.95,-.55],[1.05,-.55],[.9,-.58],
[-1.67,.05],[-1.715,-.12],[-1.555,.096],[-1.48,.006],[-1.48,-.144],[-1.517,-.205],[-1.61,-.304],[-1.5,-.28],[-1.574,-.46],[-1.48,-.49],[-1.383,-.46],[-1.288,-.445],[-1.19,-.505],[-1.4,-.617],[-1.67,-.7],[-1.555,-.746],[-1.48,-.686],[-1.115,-.767],[-1.326,-.866],[-1.23,-.355],[-1.173,-.415],[-1.173,-.596],[-1.058,-.536],[-1.077,-.626],[-.944,-.656],[-.83,-.596],[-.98,-.445],[-.85,-.746],[-.733,-.76],[-.64,-.76],[-.543,-.656],[-.676,-.67],[-.63,-.897],[-.523,-.85],[-.41,-.91],[-.41,-.82],[-.256,-.927],[-.2,-.85],[-.14,-.963],[.02,-1.026],[-1.1,-.45],[-.9,-.55],[-1.3,-.55],[-1.2,-.68],[-1,-.72],[-.75,-.67],[-.45,-.77],[-1.43,-.2],[-1.43,-.05],[-1.38,-.33],[-1.46,.2],[-1.47,.32],[-1.3,-.65],[-1.1,-.55],[-.92,-.65],[-1.25,-.5],[-1.4,-.1],[-1.38,.05]];
var p4Orange = [[-1.46,.156],[-1.27,.187],[-1.19,.17],[-1.25,-.024],[-1.326,-.01],[-1.135,-.024],[-1.173,-.07],[-1.288,-.16],[-1.19,-.174],[-1.326,-.114],[-1.04,-.144],[-.944,-.325],[-.963,-.265],[-1.135,-.265],[-.714,-.235],[-.695,-.535],[-.81,-.535],[-.925,.427],[-1.42,.367],[-1.255,.367],[-1.38,.29],[-1.27,-.295],[-1.097,.036],[-.83,-.114],[-.905,-.475],[-.7,-.1],[-1.05,-.27],[-.95,-.2],[-.88,-.05]];
var p4Pink = [[-.58,-.144],[-.48,-.144],[-.38,-.144],[-.28,-.144],[-.18,-.1],[-.75,-.235],[-.65,-.235],[-.55,-.235],[-.45,-.235],[-.35,-.235],[-.25,-.235],[-.18,-.235],[-.79,-.325],[-.68,-.325],[-.58,-.325],[-.48,-.325],[-.38,-.325],[-.28,-.325],[-.18,-.325],[-.905,-.415],[-.82,-.38],[-.676,-.415],[-.58,-.415],[-.48,-.415],[-.38,-.415],[-.28,-.415],[-.18,-.415],[-.676,-.505],[-.58,-.505],[-.48,-.505],[-.38,-.505],[-.28,-.505],[-.18,-.505],[-.62,-.596],[-.52,-.596],[-.42,-.596],[-.32,-.596],[-.22,-.596],[-.16,-.596],[-.447,-.686],[-.35,-.686],[-.25,-.686],[-.122,-.686],[-.485,-.76],
[-.6,-.19],[-.4,-.19],[-.2,-.19],[-.7,-.28],[-.5,-.28],[-.3,-.28],[-.7,-.37],[-.5,-.37],[-.3,-.37],[-.62,-.46],[-.42,-.46],[-.22,-.46],[-.55,-.55],[-.35,-.55],[-.2,-.55],[-.42,-.64],[-.22,-.64],[-.15,-.64]];
var p4Purple = [[-1.077,1.15],[-1.19,1.09],[-1.08,1.09],[-.97,1.09],[-.86,1.09],[-.75,1.09],[-1.307,1],[-1.2,1],[-1.09,1],[-.98,1],[-.87,1],[-.76,1],[-.65,1],[-.6,1],[-1.364,.91],[-1.25,.91],[-1.14,.91],[-1.03,.91],[-.92,.91],[-.81,.91],[-.7,.91],[-.58,.91],[-1.42,.82],[-1.31,.82],[-1.2,.82],[-1.09,.82],[-.98,.82],[-.87,.82],[-.76,.82],[-.65,.82],[-.58,.82],[-1.307,.728],[-1.2,.728],[-1.09,.728],[-.98,.728],[-.87,.728],[-.76,.728],[-.65,.728],[-.54,.728],[-.41,.728],[-1.326,.638],[-1.22,.638],[-1.11,.638],[-1,.638],[-.89,.638],[-.78,.638],[-.67,.638],[-.56,.638],[-.447,.638],[-1.25,.548],[-1.14,.548],[-1.03,.548],[-.92,.548],[-.81,.548],[-.7,.548],[-.59,.548],[-.48,.548],[-.37,.548],[-1.058,.457],[-.95,.457],[-.84,.457],[-.73,.457],[-.62,.457],[-.523,.457],[-.43,.5],
[-1.12,1.045],[-.92,1.045],[-.72,1.045],[-1.25,.955],[-1.05,.955],[-.85,.955],[-.65,.955],[-1.3,.865],[-1.1,.865],[-.9,.865],[-.7,.865],[-1.35,.775],[-1.15,.775],[-.95,.775],[-.75,.775],[-.55,.775],[-1.25,.683],[-1.05,.683],[-.85,.683],[-.65,.683],[-.45,.683],[-1.2,.593],[-1,.593],[-.8,.593],[-.6,.593],[-.42,.593],[-1,.5],[-.8,.5],[-.6,.5]];
var p4Brown = [[.07,-.175],[.413,-.144],[.394,-.355],[.7,-.39],[-.1,-.22],[.09,-.22],[-.1,-.295],[.03,-.295],[.14,-.295],[.25,-.295],[.39,-.29],[-.14,-.385],[-.03,-.385],[.08,-.385],[.19,-.385],[.3,-.385],[.43,-.385],[-.16,-.475],[-.05,-.475],[.06,-.475],[.17,-.475],[.28,-.475],[.39,-.475],[.5,-.475],[.62,-.475],[-.18,-.566],[-.07,-.566],[.04,-.566],[.15,-.566],[.26,-.566],[.37,-.566],[.48,-.566],[.585,-.566],[-.122,-.656],[-.01,-.656],[.1,-.656],[.21,-.656],[.32,-.656],[.43,-.656],[.51,-.656],[-.065,-.746],[.04,-.746],[.15,-.746],[.26,-.746],[.37,-.746],[.47,-.746],[.565,-.79],[.126,-.836],[.24,-.836],[.35,-.836],[.546,-.836],[.2,-.866],[.336,-.866],[.04,-.927],[.26,-.963],[.374,-.993],
[-.1,-.34],[.1,-.34],[.3,-.34],[-.12,-.43],[.08,-.43],[.28,-.43],[.45,-.43],[-.13,-.52],[.07,-.52],[.27,-.52],[.47,-.52],[.6,-.52],[-.1,-.61],[.1,-.61],[.3,-.61],[.5,-.61],[-.05,-.7],[.15,-.7],[.35,-.7],[.48,-.7],[.1,-.79],[.3,-.79],[.5,-.79],[.2,-.9],[.34,-.9]];
var p4GreyTop = [[-1.364,.11],[-1.27,.337],[-1.06,.096],[-1.04,-.235],[-.77,-.445],[-.714,-.325],[-1.276,.698],[-1.135,.608],[-.478,.668],[-.55,.5],[-.485,.743],[.432,-.55],[.623,-.566],[.2,-.175],[-.294,-.144],[-.905,.412],[-1.173,.487],[-1.326,.337],[-1.05,.24],[-.95,.2],[-.87,.12],[-.76,.1],[-.62,-.1],[-1.2,-.37],[-.8,-.3],[-.78,-.6],[-1,-.52],[.3,-.12],[.33,-.2]];

var panels = [
  { xSub: '1', ySub: '3', xTicks: h1Ticks, yTicks: h3Ticks, xDomain: [-.665, 3.74], yDomain: [-2.206, 3.577],
    left: 106.6, right: 610.6, top: 28, bottom: 578, legendDot: 677, legendText: 715, legendTop: 211.6,
    cx: centreH1, cy: centreH3, layers: [[p1Grey, 4], [p1Purple, 2], [p1Orange, 0], [p1Pink, 1], [p1Brown, 3], [p1GreyTop, 4]] },
  { xSub: '4', ySub: '2', xTicks: h4Ticks, yTicks: h2Ticks, xDomain: [-2.062, 2.138], yDomain: [-1.518, 3.446],
    left: 928.4, right: 1433.5, top: 28, bottom: 578, legendDot: 1499.3, legendText: 1537.4, legendTop: 211.6,
    cx: centreH4, cy: centreH2, layers: [[p2Grey, 4], [p2Purple, 2], [p2Orange, 0], [p2Pink, 1], [p2Brown, 3], [p2GreyTop, 4]] },
  { xSub: '2', ySub: '3', xTicks: h2Ticks, yTicks: h3Ticks, xDomain: [-1.521, 3.448], yDomain: [-2.206, 3.577],
    left: 1750.8, right: 2255.6, top: 28, bottom: 578, legendDot: 2321.6, legendText: 2359.6, legendTop: 211.6,
    cx: centreH2, cy: centreH3, layers: [[p3Grey, 4], [p3Purple, 2], [p3Orange, 0], [p3Pink, 1], [p3Brown, 3], [p3GreyTop, 4]] },
  { xSub: '3', ySub: '2', xTicks: h3Ticks, yTicks: h2Ticks, xDomain: [-2.205, 3.572], yDomain: [-1.519, 3.452],
    left: 106.6, right: 610.6, top: 684.8, bottom: 1235.6, legendDot: 677, legendText: 715, legendTop: 869,
    cx: centreH3, cy: centreH2, layers: [[p4Grey, 4], [p4Purple, 2], [p4Orange, 0], [p4Pink, 1], [p4Brown, 3], [p4GreyTop, 4]] }
];

var svg = d3.select('#chart');
var pointRadius = 6.3;

function subscriptTitle(sel, sub) {
  sel.attr('text-anchor', 'middle').attr('font-size', 27);
  sel.append('tspan').text('h');
  sel.append('tspan').attr('font-size', 19).attr('dy', 6).text(sub);
}

function drawPanel(panel) {
  var g = svg.append('g');
  var x = d3.scaleLinear().domain(panel.xDomain).range([panel.left, panel.right]);
  var y = d3.scaleLinear().domain(panel.yDomain).range([panel.bottom, panel.top]);

  panel.layers.forEach(function (layer) {
    g.append('g').selectAll('circle').data(layer[0]).enter()
      .append('circle')
        .attr('cx', function (d) { return x(d[0]); })
        .attr('cy', function (d) { return y(d[1]); })
        .attr('r', pointRadius)
        .attr('fill', legendColors[layer[1]]);
  });

  // black crosses on top
  var cross = d3.symbol().type(d3.symbolTimes).size(180);
  g.append('g').selectAll('path').data(panel.cx).enter()
    .append('path')
      .attr('d', cross)
      .attr('transform', function (d, i) { return 'translate(' + x(d) + ',' + y(panel.cy[i]) + ')'; })
      .attr('fill', 'none')
      .attr('stroke', '#000')
      .attr('stroke-width', 6.6)
      .attr('stroke-linecap', 'round');

  var xAxis = g.append('g').attr('transform', 'translate(0,' + panel.bottom + ')')
    .call(d3.axisBottom(x).tickValues(panel.xTicks).tickSizeInner(7).tickSizeOuter(0).tickPadding(7).tickFormat(d3.format('d')));
  var yAxis = g.append('g').attr('transform', 'translate(' + panel.left + ',0)')
    .call(d3.axisLeft(y).tickValues(panel.yTicks).tickSizeInner(7).tickSizeOuter(0).tickPadding(7).tickFormat(d3.format('d')));
  [xAxis, yAxis].forEach(function (axis) {
    axis.selectAll('.domain, .tick line').attr('stroke', '#000').attr('stroke-width', 3);
    axis.selectAll('text').attr('font-size', 23).attr('font-family', null).text(function () {
      return d3.select(this).text().replace('\u2212', '-');
    });
  });

  var midX = (panel.left + panel.right) / 2;
  var midY = (panel.top + panel.bottom) / 2;
  g.append('text').attr('x', midX).attr('y', panel.bottom + 66).call(subscriptTitle, panel.xSub);
  g.append('text').attr('transform', 'translate(' + (panel.left - 58) + ',' + midY + ') rotate(-90)').call(subscriptTitle, panel.ySub);

  var legendRow = d3.scaleLinear().domain([0, 4]).range([panel.legendTop, panel.legendTop + 184.5]);
  var rows = g.append('g').selectAll('g').data(legendLabels).enter().append('g');
  rows.append('circle')
    .attr('cx', panel.legendDot)
    .attr('cy', function (d, i) { return legendRow(i); })
    .attr('r', pointRadius)
    .attr('fill', function (d, i) { return legendColors[i]; });
  rows.append('text')
    .attr('x', panel.legendText)
    .attr('y', function (d, i) { return legendRow(i) + 8; })
    .attr('font-size', 23)
    .text(function (d) { return d; });
}

panels.forEach(drawPanel);
</script>
</body>
</html>
